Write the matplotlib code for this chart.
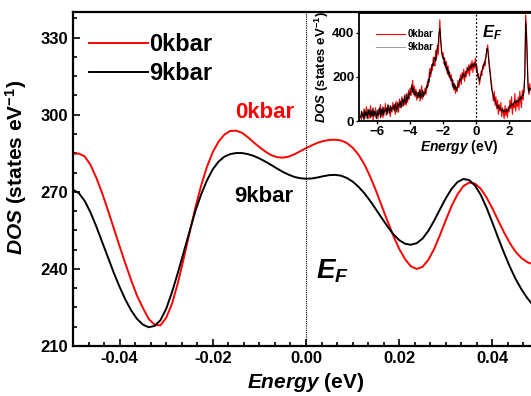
import numpy as np
import matplotlib
matplotlib.use('Agg')
import matplotlib.pyplot as plt
from matplotlib.ticker import MultipleLocator

plt.rcParams['font.family'] = ['Liberation Sans', 'DejaVu Sans']
plt.rcParams['font.weight'] = 'bold'
plt.rcParams['axes.labelweight'] = 'bold'
plt.rcParams['mathtext.fontset'] = 'custom'
plt.rcParams['mathtext.rm'] = 'Liberation Sans:bold'
plt.rcParams['mathtext.it'] = 'Liberation Sans:bold:italic'

# main panel: DOS near the Fermi level, read every 0.00125 eV
energia = np.round(np.arange(-0.05, 0.05001, 0.00125), 5)
dos0 = [284.8, 284.9, 283.8, 280.5, 275.5, 269.5, 262.8, 255.8, 248.8, 242.0,
        235.5, 229.5, 224.8, 220.5, 218.3, 218.0, 221.0, 226.5, 234.5, 244.0,
        254.0, 263.8, 272.5, 279.8, 285.5, 289.6, 292.3, 293.7, 293.8, 293.0,
        291.3, 289.3, 287.4, 285.7, 284.3, 283.5, 283.3, 283.7, 284.6, 285.8,
        287.0, 288.1, 289.1, 289.8, 290.2, 290.3, 290.0, 289.0, 287.2, 284.5,
        280.8, 276.0, 270.5, 264.5, 258.5, 252.8, 247.8, 243.8, 241.0, 240.0,
        240.8, 243.5, 247.8, 253.2, 259.0, 264.5, 269.0, 272.2, 273.6, 273.2,
        271.2, 267.8, 263.5, 258.8, 254.2, 250.0, 246.6, 244.2, 242.6, 241.8,
        241.5]
dos9 = [270.8, 269.5, 266.5, 262.0, 256.5, 250.5, 244.5, 238.5, 233.0, 228.0,
        223.8, 220.5, 218.3, 217.3, 217.8, 220.0, 224.5, 231.0, 238.5, 246.5,
        254.5, 262.5, 269.0, 274.5, 278.8, 281.8, 283.7, 284.7, 285.1, 285.1,
        284.7, 284.0, 283.0, 281.8, 280.5, 279.1, 277.8, 276.7, 275.8, 275.3,
        275.1, 275.2, 275.6, 276.1, 276.5, 276.6, 276.3, 275.4, 274.0, 272.0,
        269.5, 266.5, 263.2, 259.8, 256.5, 253.5, 251.2, 249.8, 249.4, 250.0,
        251.8, 254.8, 258.8, 263.2, 267.5, 271.2, 273.8, 275.0, 274.6, 272.5,
        268.8, 263.8, 258.0, 252.0, 246.2, 240.8, 236.0, 232.0, 228.6, 225.8,
        223.5]

# inset: wide energy range, read every 0.05 eV
energiaAmplia = np.round(np.arange(-7.0, 3.301, 0.05), 2)
dosAmplia0 = [25, 5, 40, 15, 55, 10, 30, 65, 20, 45,
              10, 35, 70, 20, 50, 5, 40, 25, 60, 15,
              35, 10, 55, 30, 75, 20, 45, 15, 60, 40,
              80, 25, 55, 35, 70, 45, 20, 65, 40, 85,
              50, 75, 30, 90, 55, 70, 40, 100, 60, 85,
              110, 65, 95, 75, 120, 70, 105, 85, 140, 100,
              150, 115, 135, 185, 120, 160, 110, 145, 95, 130,
              105, 140, 90, 125, 160, 100, 135, 115, 150, 120,
              145, 180, 160, 210, 240, 200, 255, 230, 290, 265,
              250, 320, 280, 345, 300, 370, 460, 360, 330, 290,
              310, 260, 285, 240, 270, 215, 250, 200, 220, 185,
              210, 160, 185, 140, 170, 125, 150, 135, 185, 150,
              175, 210, 165, 220, 190, 235, 180, 225, 200, 245,
              215, 255, 205, 260, 230, 275, 220, 265, 240, 285,
              230, 250, 195, 215, 165, 190, 225, 205, 250, 235,
              270, 250, 300, 320, 345, 300, 260, 230, 190, 160,
              120, 90, 135, 70, 110, 55, 95, 30, 75, 45,
              85, 20, 60, 35, 10, 70, 25, 55, 15, 65,
              40, 95, 55, 110, 30, 80, 60, 125, 45, 90,
              65, 110, 50, 135, 85, 60, 140, 95, 150, 210,
              480, 420, 300, 150, 120, 170, 140]
dosAmplia9 = [15, 45, 20, 35, 5, 50, 25, 40, 10, 55,
              30, 50, 15, 45, 25, 60, 20, 45, 35, 10,
              50, 25, 40, 60, 15, 55, 30, 65, 25, 50,
              45, 60, 30, 75, 50, 35, 70, 45, 60, 55,
              70, 45, 80, 60, 40, 85, 65, 75, 90, 60,
              85, 100, 70, 115, 90, 80, 125, 95, 110, 130,
              120, 140, 165, 130, 150, 125, 115, 135, 120, 105,
              130, 110, 145, 100, 120, 140, 110, 130, 125, 140,
              160, 150, 190, 175, 220, 215, 240, 260, 250, 280,
              290, 270, 310, 330, 350, 400, 420, 380, 310, 300,
              280, 290, 250, 265, 230, 245, 210, 230, 195, 205,
              180, 190, 150, 170, 145, 160, 140, 155, 160, 170,
              190, 180, 200, 195, 215, 205, 200, 215, 225, 230,
              240, 230, 245, 250, 240, 260, 250, 245, 265, 255,
              250, 230, 210, 200, 180, 200, 210, 230, 240, 260,
              255, 280, 290, 330, 325, 280, 240, 210, 170, 140,
              130, 110, 100, 95, 80, 75, 60, 70, 55, 60,
              50, 45, 55, 40, 50, 45, 40, 55, 45, 50,
              60, 70, 65, 80, 75, 70, 85, 90, 80, 95,
              90, 85, 100, 95, 110, 100, 120, 115, 130, 200,
              450, 400, 260, 160, 130, 150, 145]

fig = plt.figure(figsize=(5.31, 3.96), dpi=100)
ax = fig.add_axes([0.1375, 0.1263, 0.8776, 0.8434])
ax.plot(energia, dos0, color='#ff0000', lw=1.4, label='0kbar')
ax.plot(energia, dos9, color='black', lw=1.4, label='9kbar')
ax.axvline(0, color='black', lw=0.8, ls=(0, (1, 1)))
ax.set_xlim(-0.05, 0.05)
ax.set_ylim(210, 340)
ax.set_xticks([-0.04, -0.02, 0.0, 0.02, 0.04])
ax.set_xticklabels(['-0.04', '-0.02', '0.00', '0.02', '0.04'])
ax.set_yticks([210, 240, 270, 300, 330])
ax.xaxis.set_minor_locator(MultipleLocator(0.02 / 6))
ax.yaxis.set_minor_locator(MultipleLocator(7.5))
ax.tick_params(which='both', direction='in', labelsize=12, width=1.2)
ax.tick_params(which='major', length=5)
ax.tick_params(which='minor', length=3)
for s in ax.spines.values():
    s.set_linewidth(1.6)
ax.set_xlabel(r'$\mathit{Energy}$ (eV)', fontsize=15, labelpad=4)
ax.set_ylabel(r'$\mathit{DOS}$ (states eV$^{-1}$)', fontsize=15)
ax.yaxis.set_label_coords(-0.095, 0.535)
ax.legend(loc='upper left', bbox_to_anchor=(-0.012, 1.0), frameon=False, fontsize=17,
          handlelength=2.5, handletextpad=0.05, labelspacing=0.25, borderaxespad=0.5)
ax.text(-0.0152, 301, '0kbar', color='#ff0000', fontsize=16, va='center')
ax.text(-0.0155, 268, '9kbar', color='black', fontsize=16, va='center')
ax.text(0.0022, 239, r'$\mathit{E}_{\mathit{F}}$', fontsize=20, va='center')

# inset
ins = fig.add_axes([0.6761, 0.6944, 0.379, 0.2727])
ins.plot(energiaAmplia, dosAmplia0, color='#ff0000', lw=0.8, label='0kbar')
ins.plot(energiaAmplia, dosAmplia9, color='black', lw=0.7, label='9kbar')
ins.axvline(0, color='black', lw=0.9, ls=(0, (1.5, 1.5)))
ins.set_xlim(-7.1, 5.1)
ins.set_ylim(0, 490)
ins.set_xticks([-6, -4, -2, 0, 2])
ins.set_yticks([0, 200, 400])
ins.tick_params(direction='out', length=2.5, width=1, labelsize=9.5, pad=1)
for s in ins.spines.values():
    s.set_linewidth(1.3)
ins.set_xlabel(r'$\mathit{Energy}$ (eV)', fontsize=10, labelpad=0)
ins.set_ylabel(r'$\mathit{DOS}$ (states eV$^{-1}$)', fontsize=9.5, labelpad=1)
leg = ins.legend(loc='upper left', bbox_to_anchor=(0.04, 0.93), frameon=False, fontsize=7,
                 handlelength=3.0, handletextpad=0.3, labelspacing=0.3)
leg.get_lines()[1].set_color('#999999')
ins.text(0.35, 400, r'$\mathit{E}_{\mathit{F}}$', fontsize=12, va='center')

fig.savefig('out.png', dpi=100)
